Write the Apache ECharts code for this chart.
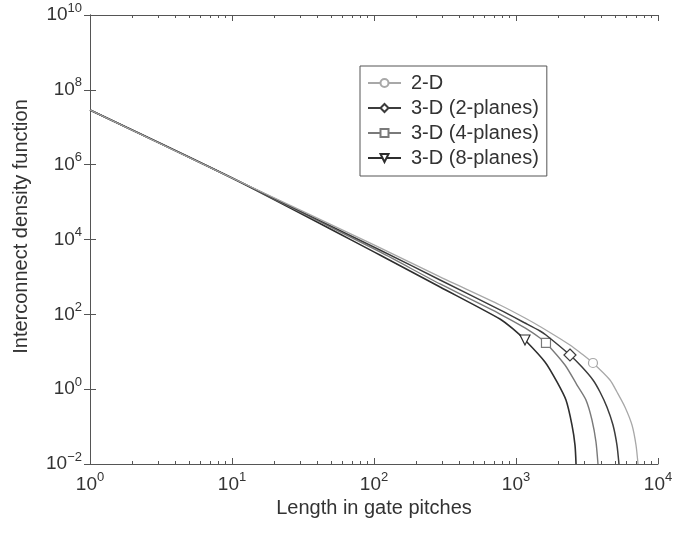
<!DOCTYPE html>
<html>
<head>
<meta charset="utf-8">
<script src="https://cdn.jsdelivr.net/npm/echarts@6/dist/echarts.min.js"></script>
<style>
  html, body { margin: 0; padding: 0; background: #fff; }
  #chart { width: 683px; height: 535px; }
</style>
</head>
<body>
<div id="chart"></div>
<script>
// series (length in gate pitches -> density)
const names = ['2-D', '3-D (2-planes)', '3-D (4-planes)', '3-D (8-planes)']

const x2D = [1, 10, 100, 292, 771, 1157, 1476, 2399, 2917, 3484, 4590, 5140, 5860, 6560, 7000, 7230]
const y2D = [2.89e7, 4.41e5, 7150, 1000, 178, 80, 47.3, 15.2, 8.7, 5.01, 1.76, 0.84, 0.33, 0.11, 0.032, 0.01]

const x2p = [1, 10, 110, 292, 771, 1157, 1476, 1626, 2399, 2917, 3484, 3905, 4375, 4820, 5140, 5310]
const y2p = [2.89e7, 4.41e5, 5250, 828, 131, 58.7, 35.9, 28.1, 8.2, 3.9, 1.76, 0.84, 0.33, 0.11, 0.032, 0.01]

const x4p = [1, 10, 110, 292, 771, 1157, 1476, 1626, 2213, 2690, 3112, 3428, 3657, 3778]
const y4p = [2.89e7, 4.41e5, 4640, 647, 102, 43.2, 23.3, 17.2, 4.43, 1.29, 0.51, 0.15, 0.039, 0.01]

const x8p = [1, 10, 110, 292, 771, 953, 1157, 1600, 1944, 2249, 2479, 2603, 2647]
const y8p = [2.89e7, 4.41e5, 3860, 538, 75, 40.6, 20.6, 5.33, 1.56, 0.51, 0.11, 0.032, 0.01]

// index of the single marker drawn on each curve
const markAt = [9, 8, 7, 6]

// minor tick positions (decade exponents) for the log x axis
const minorExp = []
for (let d = 0; d < 4; d++) {
    for (let k = 2; k <= 9; k++) minorExp.push(d + Math.log10(k))
}

const chart = echarts.init(document.getElementById('chart'))

const font = "'Liberation Sans', Arial, sans-serif"
const txt = '#333'
const axisCol = '#555'

function powLabel(v) {
    const e = Math.round(Math.log10(v))
    return '{b|10}{s|' + (e < 0 ? '\u2212' + (-e) : e) + '}'
}
const richTxt = {
    b: { fontSize: 19, lineHeight: 27, color: txt, fontFamily: font },
    s: { fontSize: 13, lineHeight: 13, verticalAlign: 'top', color: txt, fontFamily: font }
}

function buildData(xs, ys, mark, size) {
    return xs.map((x, i) => {
        const item = { value: [x, ys[i]] }
        if (i === mark) item.symbolSize = size
        return item
    })
}

const styles = [
    { color: '#a8a8a8', width: 1.3, symbol: 'circle', size: 9, rotate: 0 },
    { color: '#3c3c3c', width: 1.5, symbol: 'diamond', size: 12, rotate: 0 },
    { color: '#7a7a7a', width: 1.4, symbol: 'rect', size: 9, rotate: 0 },
    { color: '#2e2e2e', width: 1.6, symbol: 'triangle', size: 10, rotate: 180 }
]
const xsAll = [x2D, x2p, x4p, x8p]
const ysAll = [y2D, y2p, y4p, y8p]

const series = names.map((name, i) => ({
    name: name,
    type: 'line',
    xAxisIndex: 0,
    yAxisIndex: 0,
    smooth: 0.25,
    symbol: styles[i].symbol,
    symbolRotate: styles[i].rotate,
    symbolSize: 0,
    showSymbol: true,
    lineStyle: { color: styles[i].color, width: styles[i].width },
    itemStyle: { color: '#fff', borderColor: styles[i].color, borderWidth: 1.2 },
    emphasis: { disabled: true },
    z: 10 - i,
    data: buildData(xsAll[i], ysAll[i], markAt[i], styles[i].size)
}))

chart.setOption({
    animation: false,
    backgroundColor: '#fff',
    textStyle: { fontFamily: font },
    grid: { left: 90, right: 25, top: 15, bottom: 71 },
    legend: {
        orient: 'vertical',
        left: 360,
        top: 66,
        padding: [7, 8, 8, 7],
        itemGap: 5,
        itemWidth: 33,
        itemHeight: 10,
        borderColor: '#555',
        borderWidth: 1,
        selectedMode: false,
        textStyle: { fontSize: 20, color: txt, lineHeight: 20, padding: [0, 0, 0, 5], fontFamily: font },
        data: names
    },
    xAxis: [{
        type: 'log',
        logBase: 10,
        min: 1,
        max: 1e4,
        interval: 1,
        position: 'bottom',
        name: 'Length in gate pitches',
        nameLocation: 'middle',
        nameGap: 33,
        nameTextStyle: { fontSize: 20, color: txt, fontFamily: font },
        axisLine: { lineStyle: { color: axisCol, width: 1 } },
        axisTick: { inside: true, length: 6, lineStyle: { color: axisCol } },
        axisLabel: { margin: 7, formatter: powLabel, rich: richTxt },
        splitLine: { show: false }
    }, {
        type: 'log',
        logBase: 10,
        min: 1,
        max: 1e4,
        interval: 1,
        position: 'top',
        axisLine: { lineStyle: { color: axisCol, width: 1 } },
        axisTick: { inside: true, length: 6, lineStyle: { color: axisCol } },
        axisLabel: { show: false },
        splitLine: { show: false }
    }, {
        type: 'value',
        min: 0,
        max: 4,
        position: 'bottom',
        axisLine: { show: false },
        axisTick: { inside: true, length: 3, customValues: minorExp, lineStyle: { color: axisCol } },
        axisLabel: { show: false },
        splitLine: { show: false }
    }, {
        type: 'value',
        min: 0,
        max: 4,
        position: 'top',
        axisLine: { show: false },
        axisTick: { inside: true, length: 3, customValues: minorExp, lineStyle: { color: axisCol } },
        axisLabel: { show: false },
        splitLine: { show: false }
    }],
    yAxis: [{
        type: 'log',
        logBase: 10,
        min: 1e-2,
        max: 1e10,
        interval: 2,
        position: 'left',
        name: 'Interconnect density function',
        nameLocation: 'middle',
        nameGap: 59,
        nameTextStyle: { fontSize: 20, color: txt, fontFamily: font, padding: [0, 0, 0, 26] },
        axisLine: { show: true, lineStyle: { color: axisCol, width: 1 } },
        axisTick: { show: true, inside: true, length: 6, lineStyle: { color: axisCol } },
        axisLabel: { margin: 8, formatter: powLabel, rich: richTxt },
        splitLine: { show: false }
    }, {
        type: 'log',
        logBase: 10,
        min: 1e-2,
        max: 1e10,
        interval: 2,
        position: 'right',
        axisLine: { show: true, lineStyle: { color: axisCol, width: 1 } },
        axisTick: { show: true, inside: true, length: 6, lineStyle: { color: axisCol } },
        axisLabel: { show: false },
        splitLine: { show: false }
    }],
    series: series
})
</script>
</body>
</html>
